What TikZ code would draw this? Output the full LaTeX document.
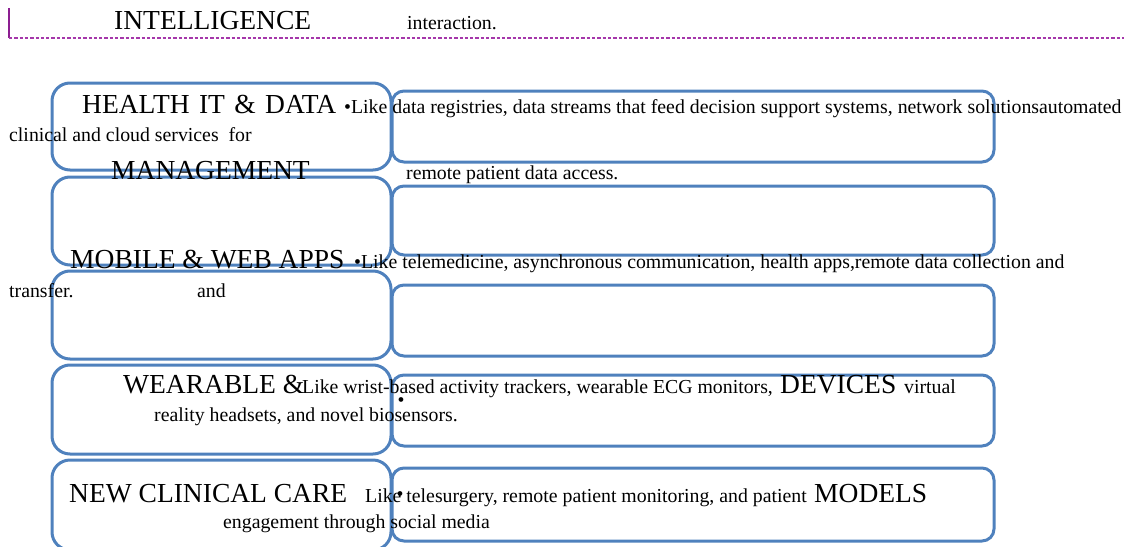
\documentclass[tikz,border=0pt]{standalone}
\usepackage{fontspec}
\setmainfont{Liberation Serif}
\definecolor{boxblue}{RGB}{79,129,189}
\definecolor{rulepurple}{RGB}{165,55,170}
\definecolor{barpurple}{RGB}{140,30,145}
\tikzset{
  leftbox/.style={draw=boxblue, line width=3pt, rounded corners=18pt, inner sep=0pt},
  rightbox/.style={draw=boxblue, line width=3pt, rounded corners=12pt, inner sep=0pt},
  bigtxt/.style={anchor=base west, inner sep=0pt, font=\fontsize{27.5}{30}\selectfont},
  smalltxt/.style={anchor=base west, inner sep=0pt, font=\fontsize{19.8}{22}\selectfont},
  dot/.style={anchor=center, inner sep=0pt, font=\fontsize{19.8}{22}\selectfont},
}
\newcommand{\wsp}{\hspace{9.4pt}}
\begin{document}
\begin{tikzpicture}[x=1pt, y=-1pt]
\useasboundingbox (0,0) rectangle (1124,546);

% header rule
\coordinate (barTop) at (9,8);
\coordinate (barBot) at (9,38);
\coordinate (ruleL) at (9,37.5);
\coordinate (ruleR) at (1124,37.5);
\draw[barpurple, line width=2.4pt] (barTop) -- (barBot);
\draw[rulepurple, line width=2pt, dash pattern=on 3.3pt off 2pt] (ruleL) -- (ruleR);

% description panels
\node[rightbox, minimum width=602pt, minimum height=71pt] (r1) at (693,126.5) {};
\node[rightbox, minimum width=602pt, minimum height=69pt] (r2) at (693,220.5) {};
\node[rightbox, minimum width=602pt, minimum height=71pt] (r3) at (693,320.5) {};
\node[rightbox, minimum width=602pt, minimum height=71pt] (r4) at (693,410.5) {};
\node[rightbox, minimum width=602pt, minimum height=73pt] (r5) at (693,504.5) {};

% category panels
\node[leftbox, minimum width=339pt, minimum height=87pt] (l1) at (221.5,126.5) {};
\node[leftbox, minimum width=339pt, minimum height=88pt] (l2) at (221.5,221) {};
\node[leftbox, minimum width=339pt, minimum height=88pt] (l3) at (221.5,315) {};
\node[leftbox, minimum width=339pt, minimum height=89pt] (l4) at (221.5,409.5) {};
\node[leftbox, minimum width=339pt, minimum height=90pt] (l5) at (221.5,505) {};

% text
\node[bigtxt] (t1) at (114,29) {INTELLIGENCE};
\node[smalltxt] (t2) at (407,29) {interaction.};

\node[bigtxt] (t3) at (82,113) {HEALTH\wsp IT\wsp \&\wsp DATA};
\node[smalltxt] (t4) at (344,113) {•Like data registries, data streams that feed decision support systems, network solutionsautomated};
\node[smalltxt] (t5) at (9,141) {clinical and cloud services\ \ for};
\node[bigtxt] (t6) at (111,179) {MANAGEMENT};
\node[smalltxt] (t7) at (406,179) {remote patient data access.};

\node[bigtxt] (t8) at (70,268) {MOBILE \& WEB APPS};
\node[smalltxt] (t9) at (354,268) {•Like telemedicine, asynchronous communication, health apps,remote data collection and};
\node[smalltxt] (t10) at (9,297) {transfer.};
\node[smalltxt] (t11) at (197,297) {and};

\node[bigtxt] (t12) at (123,393) {WEARABLE \&};
\node[smalltxt] (t13) at (302,393) {Like wrist-based activity trackers, wearable ECG monitors,};
\node[bigtxt] (t14) at (780,393) {DEVICES};
\node[smalltxt] (t15) at (904,393) {virtual};
\node[dot] (t16) at (401,402) {•};
\node[smalltxt] (t17) at (154,421) {reality headsets, and novel biosensors.};

\node[bigtxt] (t18) at (69,502) {NEW CLINICAL CARE};
\node[smalltxt] (t19) at (365,502) {Like telesurgery, remote patient monitoring, and patient};
\node[dot] (t20) at (400,496) {•};
\node[bigtxt] (t21) at (814,502) {MODELS};
\node[smalltxt] (t22) at (223,528) {engagement through social media};
\end{tikzpicture}
\end{document}
